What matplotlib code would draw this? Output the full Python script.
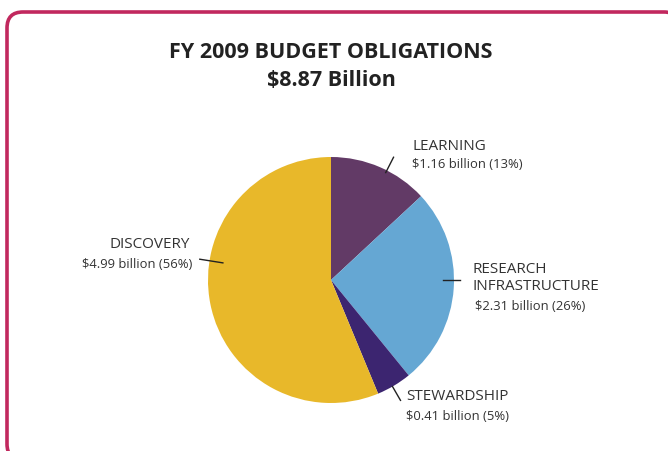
import matplotlib.pyplot as plt
from matplotlib.patches import FancyBboxPatch
import numpy as np

# FY 2009 budget obligations, billions of dollars
categories = ['LEARNING', 'RESEARCH\nINFRASTRUCTURE', 'STEWARDSHIP', 'DISCOVERY']
amounts = [1.16, 2.31, 0.41, 4.99]
percents = [13, 26, 5, 56]
colors = ['#623a66', '#65a7d3', '#3c2570', '#e8b82a']

plt.rcParams['font.family'] = ['Open Sans', 'DejaVu Sans']

fig = plt.figure(figsize=(6.68, 4.51), dpi=100)
ax = fig.add_axes([0, 0, 1, 1])

# rounded frame, running off the right and bottom edges
frame = FancyBboxPatch((7, -9), 673, 448,
                       boxstyle='round,pad=0,rounding_size=16',
                       fc='white', ec='#c1285e', lw=2.6, zorder=0)
ax.add_patch(frame)

ax.text(331, 399, 'FY 2009 BUDGET OBLIGATIONS', ha='center', va='center',
        fontsize=15.5, fontweight='bold', color='#222222')
ax.text(331, 371, '$8.87 Billion', ha='center', va='center',
        fontsize=15.5, fontweight='bold', color='#222222')

cx, cy, r = 331, 171, 123
wedges, _ = ax.pie(amounts, colors=colors, startangle=90, counterclock=False,
                   center=(cx, cy), radius=r, frame=True,
                   wedgeprops=dict(linewidth=0))
ax.set_xlim(0, 668)
ax.set_ylim(0, 451)
ax.set_aspect('equal')
ax.axis('off')

# leader ticks crossing the rim: (angle, inner, outer) as fractions of radius
ticks = [(63, 0.98, 1.12), (0, 0.91, 1.05), (-60, 1.0, 1.13), (171, 0.89, 1.08)]
for a, f0, f1 in ticks:
    t = np.deg2rad(a)
    ax.plot([cx + r * f0 * np.cos(t), cx + r * f1 * np.cos(t)],
            [cy + r * f0 * np.sin(t), cy + r * f1 * np.sin(t)],
            color='#222222', lw=1.0)

def value_text(i):
    return '$%.2f billion (%d%%)' % (amounts[i], percents[i])

label_color = '#333333'
name_size = 11
value_size = 9.4
# learning
ax.text(412, 451 - 147, categories[0], ha='left', va='center', fontsize=name_size, color=label_color)
ax.text(412, 451 - 165, value_text(0), ha='left', va='center', fontsize=value_size, color=label_color)
# research infrastructure
ax.text(473, 451 - 278, categories[1], ha='left', va='center', fontsize=name_size,
        color=label_color, linespacing=1.25)
ax.text(475, 451 - 307, value_text(1), ha='left', va='center', fontsize=value_size, color=label_color)
# stewardship
ax.text(406, 451 - 397, categories[2], ha='left', va='center', fontsize=name_size, color=label_color)
ax.text(406, 451 - 417, value_text(2), ha='left', va='center', fontsize=value_size, color=label_color)
# discovery
ax.text(190, 451 - 245, categories[3], ha='right', va='center', fontsize=name_size, color=label_color)
ax.text(192, 451 - 265, value_text(3), ha='right', va='center', fontsize=value_size, color=label_color)

fig.savefig('out.png', dpi=100)
